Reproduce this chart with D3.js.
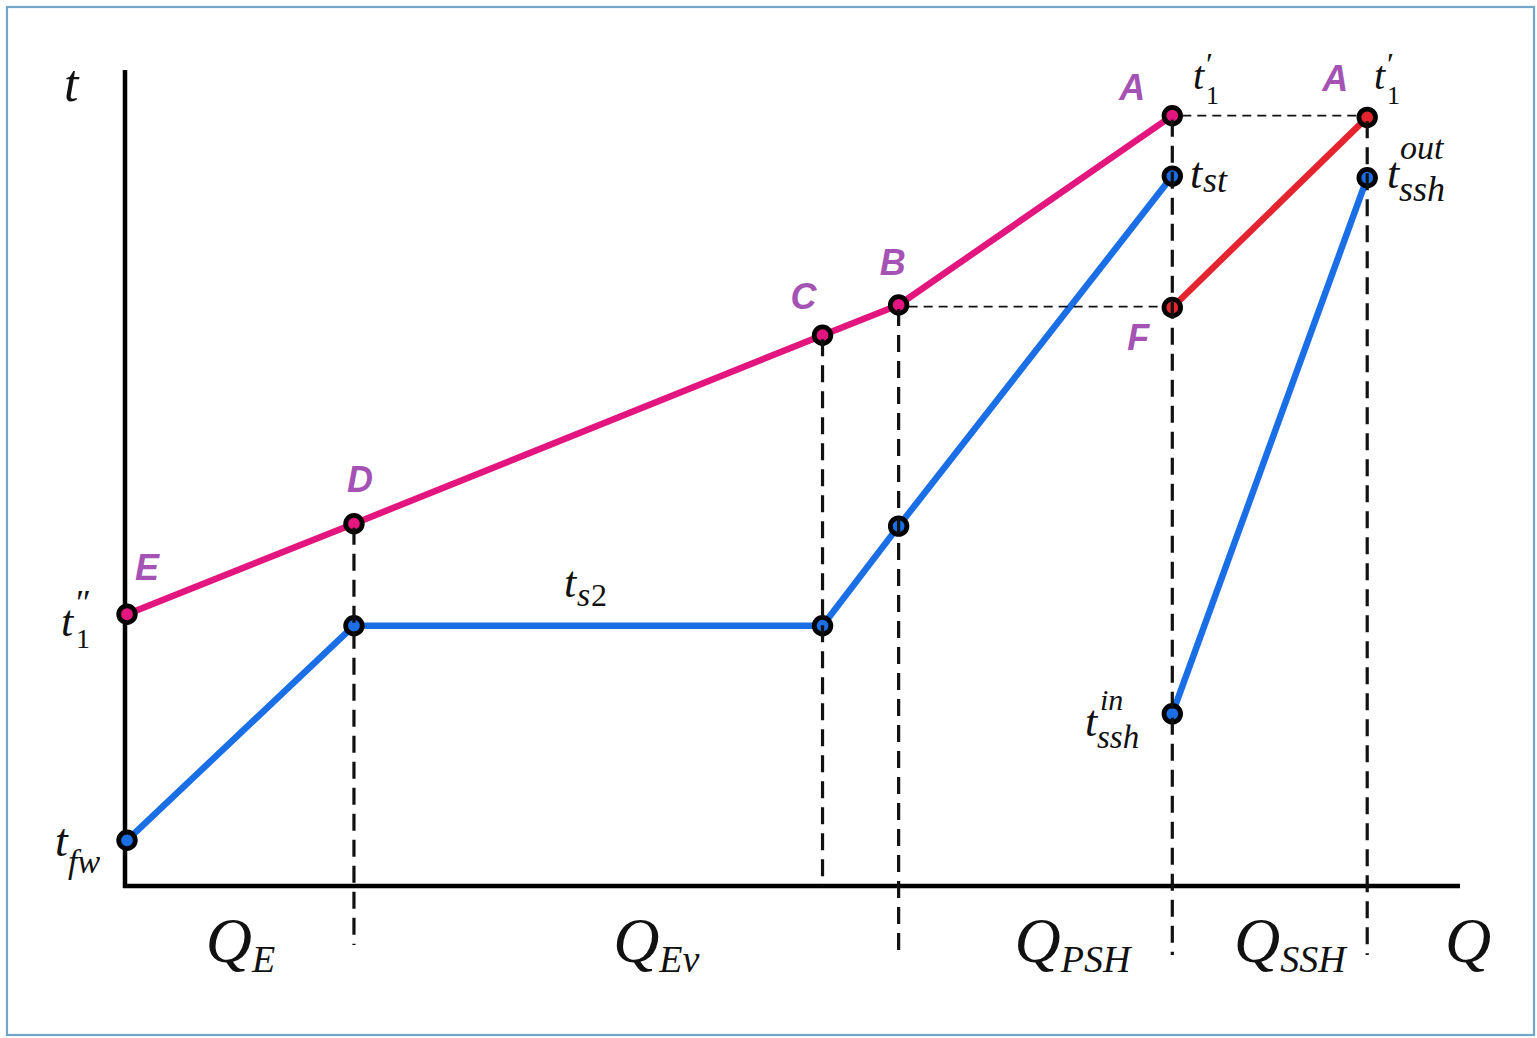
<!DOCTYPE html>
<html>
<head>
<meta charset="utf-8">
<script src="https://cdn.jsdelivr.net/npm/d3@7"></script>
<style>
  html, body { margin: 0; padding: 0; background: #fff; }
  svg { display: block; }
</style>
</head>
<body>
<script>
// Heat-transfer Q–t diagram: flue gas (upper) and water/steam (lower) curves.
// Q positions of the stage boundaries (arbitrary units along the heat axis)
const qStops = { start: 0, d: 170, c: 521, b: 578, a: 783, ssh: 929 };

// Flue-gas path E → D → C → B → A (temperature, arbitrary units)
const gasQ = [qStops.start, qStops.d, qStops.c, qStops.b, qStops.a];
const gasT = [33.3, 44.4, 67.5, 71.2, 94.4];

// Water / steam path: feedwater → saturation (ts2) → superheated (tst)
const waterQ = [qStops.start, qStops.d, qStops.c, qStops.b, qStops.a];
const waterT = [5.6, 31.9, 31.9, 44.1, 87.0];

// Secondary superheater: gas F → A, steam tssh_in → tssh_out
const reheatGasQ = [qStops.a, qStops.ssh];
const reheatGasT = [70.9, 94.2];
const reheatSteamQ = [qStops.a, qStops.ssh];
const reheatSteamT = [21.1, 86.8];

// Heat-duty labels below the Q axis
const dutyLabels = [
  { main: "Q", sub: "E" },
  { main: "Q", sub: "Ev" },
  { main: "Q", sub: "PSH" },
  { main: "Q", sub: "SSH" }
];

const W = 1537, H = 1038;
const svg = d3.select("body").append("svg").attr("width", W).attr("height", H);

// frame
svg.append("rect").attr("x", 7).attr("y", 7).attr("width", W - 10).attr("height", H - 10)
  .attr("fill", "#fff").attr("stroke", "#6fa6c9").attr("stroke-width", 2.2);

const x = d3.scaleLinear().domain([0, 1000]).range([127, 1462]);
const y = d3.scaleLinear().domain([0, 100]).range([886, 70]);

const pink = "#e3157f", blue = "#1a6ee6", red = "#e4242e", purple = "#a453b4";
const serif = "'Liberation Serif', 'DejaVu Serif', serif";
const sans = "'Liberation Sans', Arial, sans-serif";

// ---- axes ----
const axisG = svg.append("g").attr("stroke", "#000").attr("stroke-width", 4.5).attr("fill", "none");
axisG.append("line").attr("x1", 125).attr("x2", 125).attr("y1", 70).attr("y2", 888);
axisG.append("line").attr("x1", 123).attr("x2", 1460).attr("y1", 886).attr("y2", 886);

// ---- curves ----
const line = d3.line().x(d => x(d[0])).y(d => y(d[1]));
const curves = [
  { q: waterQ, t: waterT, c: blue },
  { q: reheatSteamQ, t: reheatSteamT, c: blue },
  { q: gasQ, t: gasT, c: pink },
  { q: reheatGasQ, t: reheatGasT, c: red }
];
curves.forEach(cv => {
  svg.append("path").datum(d3.zip(cv.q, cv.t)).attr("d", line)
    .attr("fill", "none").attr("stroke", cv.c).attr("stroke-width", 6.5).attr("stroke-linejoin", "round");
});

// ---- markers ----
curves.forEach(cv => {
  svg.append("g").selectAll("circle").data(d3.zip(cv.q, cv.t)).join("circle")
    .attr("cx", d => x(d[0])).attr("cy", d => y(d[1])).attr("r", 8.3)
    .attr("fill", cv.c).attr("stroke", "#000").attr("stroke-width", 4.8);
});

// ---- dashed guides (drawn over the markers) ----
const guides = svg.append("g").attr("stroke", "#111").attr("fill", "none");
const vGuides = [
  { q: qStops.d, top: gasT[1], bottom: 945 },
  { q: qStops.c, top: gasT[2], bottom: 886 },
  { q: qStops.b, top: gasT[3], bottom: 955 },
  { q: qStops.a, top: gasT[4], bottom: 955 },
  { q: qStops.ssh, top: reheatGasT[1], bottom: 955 }
];
guides.selectAll("line.v").data(vGuides).join("line")
  .attr("x1", d => x(d.q)).attr("x2", d => x(d.q))
  .attr("y1", d => y(d.top) + 4).attr("y2", d => d.bottom)
  .attr("stroke-width", 3.2).attr("stroke-dasharray", "17,9");
const hGuides = [
  { q1: qStops.b, q2: qStops.a, t: 71.0 },
  { q1: qStops.a, q2: qStops.ssh, t: 94.4 }
];
guides.selectAll("line.h").data(hGuides).join("line")
  .attr("x1", d => x(d.q1) + 10).attr("x2", d => x(d.q2) - 10)
  .attr("y1", d => y(d.t)).attr("y2", d => y(d.t))
  .attr("stroke-width", 1.8).attr("stroke-dasharray", "9,6");

// ---- point letters ----
const letterPos = [
  { n: "E", q: gasQ[0], t: gasT[0], dx: 20, dy: -34 },
  { n: "D", q: gasQ[1], t: gasT[1], dx: 6, dy: -32 },
  { n: "C", q: gasQ[2], t: gasT[2], dx: -19, dy: -26 },
  { n: "B", q: gasQ[3], t: gasT[3], dx: -6, dy: -30 },
  { n: "A", q: gasQ[4], t: gasT[4], dx: -40, dy: -16 },
  { n: "A", q: reheatGasQ[1], t: reheatGasT[1], dx: -32, dy: -26 },
  { n: "F", q: reheatGasQ[0], t: reheatGasT[0], dx: -34, dy: 43 }
];
svg.append("g").selectAll("text").data(letterPos).join("text")
  .attr("x", d => x(d.q) + d.dx).attr("y", d => y(d.t) + d.dy)
  .attr("text-anchor", "middle")
  .attr("font-family", sans).attr("font-weight", "bold").attr("font-style", "italic")
  .attr("font-size", 36).attr("fill", purple).text(d => d.n);

// ---- math labels: each piece is its own text element ----
function piece(px, py, str, size, italic) {
  return svg.append("text").attr("x", px).attr("y", py)
    .attr("font-family", serif).attr("font-style", italic === false ? "normal" : "italic")
    .attr("font-size", size).attr("fill", "#111").text(str);
}

piece(64, 101, "t", 52);

// t1''
piece(61, 636, "t", 44);
piece(76, 615, "″", 36, false);
piece(76, 648, "1", 28, false);

// t_fw
piece(55, 856, "t", 46);
piece(68, 873, "fw", 34);

// t_s2
piece(564, 597, "t", 44);
piece(577, 606, "s", 34);
piece(591, 606, "2", 32, false);

// t_st
piece(1190, 188, "t", 44);
piece(1203, 192, "st", 36);

// t1' (two copies)
[1193, 1374].forEach(px => {
  piece(px, 89, "t", 40);
  piece(px + 13, 75, "′", 32, false);
  piece(px + 13, 104, "1", 26, false);
});

// t_ssh^in
piece(1085, 736, "t", 44);
piece(1100, 710, "in", 30);
piece(1097, 748, "ssh", 33);

// t_ssh^out
piece(1387, 188, "t", 44);
piece(1400, 159, "out", 34);
piece(1399, 201, "ssh", 36);

// ---- heat-duty labels ----
const dutyX = [(x(qStops.start) + x(qStops.d)) / 2, (x(qStops.d) + x(qStops.b)) / 2 + 30,
  (x(qStops.b) + x(qStops.a)) / 2 + 37, (x(qStops.a) + x(qStops.ssh)) / 2 + 20];
dutyLabels.forEach((d, i) => {
  const t = svg.append("text").attr("x", dutyX[i]).attr("y", 962).attr("text-anchor", "middle")
    .attr("font-family", serif).attr("font-style", "italic").attr("font-size", 64).attr("fill", "#111");
  t.append("tspan").text(d.main);
  t.append("tspan").attr("font-size", 38).attr("dy", 10).text(d.sub);
});
svg.append("text").attr("x", 1468).attr("y", 962).attr("text-anchor", "middle")
  .attr("font-family", serif).attr("font-style", "italic").attr("font-size", 64).attr("fill", "#111").text("Q");
</script>
</body>
</html>
